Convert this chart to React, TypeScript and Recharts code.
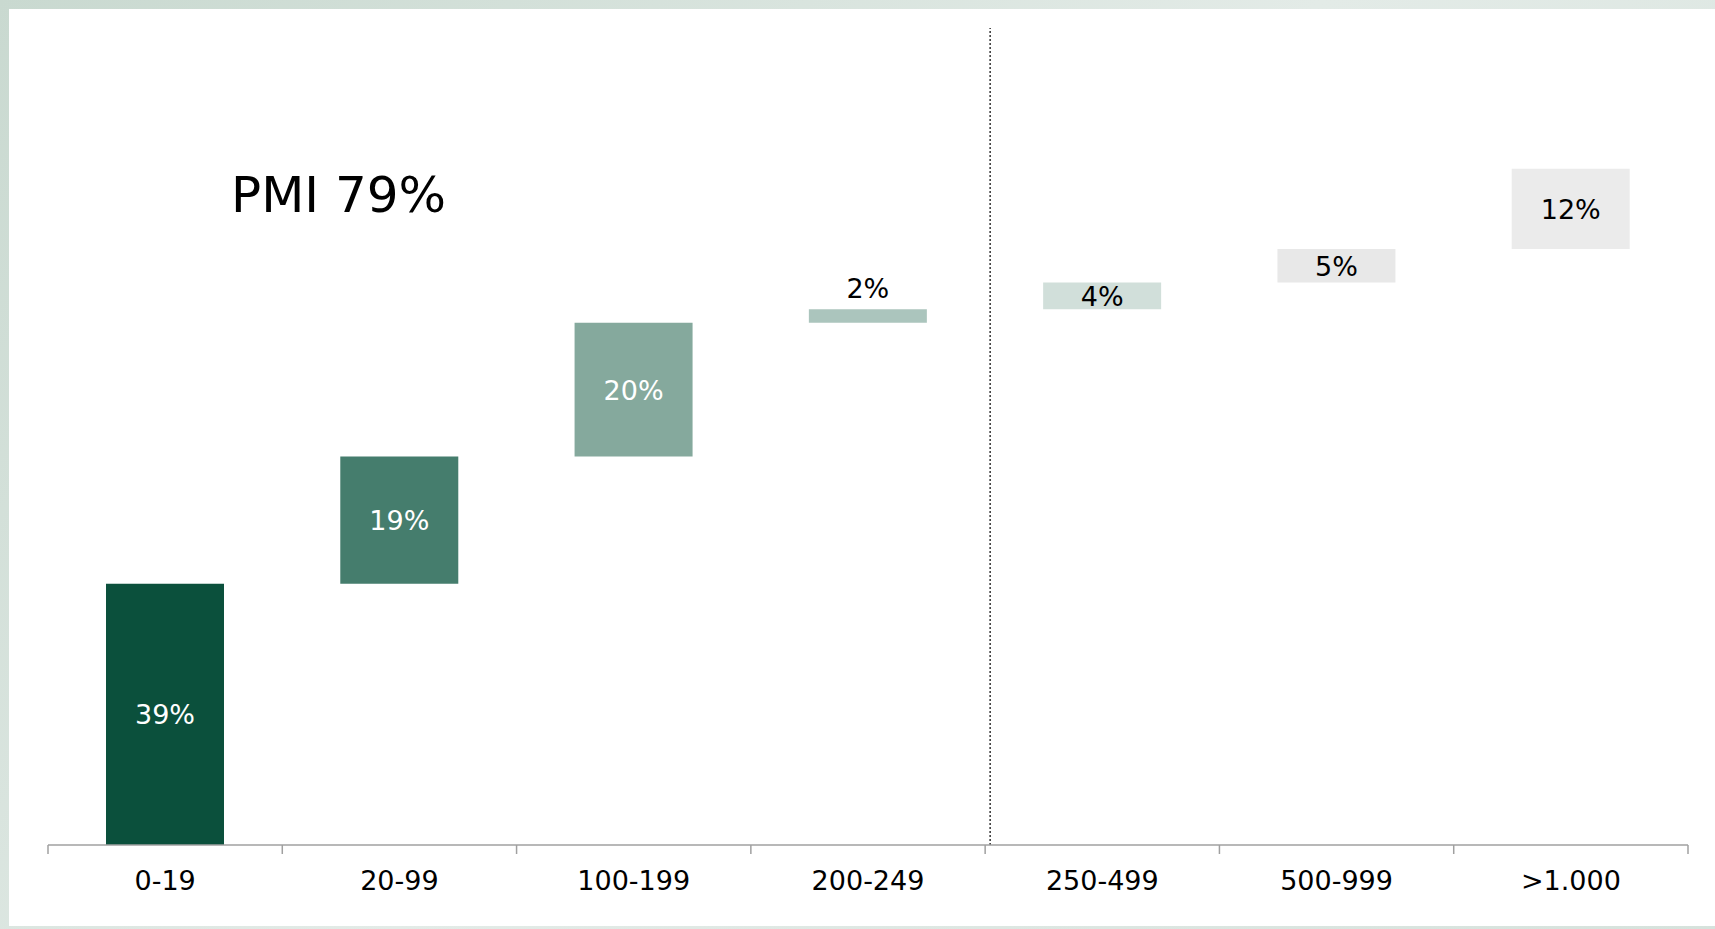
import React from 'react';
import { BarChart, Bar, XAxis, YAxis, Cell, LabelList, ReferenceLine } from 'recharts';

const categories = ['0-19', '20-99', '100-199', '200-249', '250-499', '500-999', '>1.000'];
const shares = [39, 19, 20, 2, 4, 5, 12];
const barColors = ['#0b503c', '#457d6d', '#85a99d', '#abc5bd', '#d1dfda', '#e8e8e8', '#ebebeb'];
const labelColors = ['#ffffff', '#ffffff', '#ffffff', '#000000', '#000000', '#000000', '#000000'];
const headline = 'PMI 79%';

// waterfall: each step starts where the previous one ended
const data = categories.map((name, i) => ({
  name,
  base: shares.slice(0, i).reduce((a, b) => a + b, 0),
  value: shares[i],
}));

const W = 1715;
const H = 929;
const M = { top: 28, right: 27, bottom: 24, left: 48 };
const AXIS_H = 60;
const PLOT_BOTTOM = H - M.bottom - AXIS_H;
const BAND = (W - M.left - M.right) / categories.length;
const FONT = '"DejaVu Sans", Verdana, sans-serif';

const Tick = (props: any) => {
  const { x, payload, index } = props;
  const half = BAND / 2;
  return (
    <g>
      <line x1={x - half} y1={PLOT_BOTTOM} x2={x - half} y2={PLOT_BOTTOM + 9} stroke="#a0a0a0" strokeWidth={1.5} />
      {index === categories.length - 1 && (
        <line x1={x + half} y1={PLOT_BOTTOM} x2={x + half} y2={PLOT_BOTTOM + 9} stroke="#a0a0a0" strokeWidth={1.5} />
      )}
      <text x={x} y={PLOT_BOTTOM + 45} textAnchor="middle" fontSize={27} fontFamily={FONT} fill="#000">
        {payload.value}
      </text>
    </g>
  );
};

const BarLabel = (props: any) => {
  const { x, y, width, height, value, index } = props;
  const cx = x + width / 2;
  const small = height < 20;
  const ty = small ? y - 11 : y + height / 2 + 10;
  return (
    <text x={cx} y={ty} textAnchor="middle" fontSize={27} fontFamily={FONT} fill={small ? '#000' : labelColors[index]}>
      {value}%
    </text>
  );
};

const DottedLine = (props: any) => {
  const { x1, y1, x2, y2 } = props;
  return <line x1={x1 + 5} y1={y1} x2={x2 + 5} y2={y2} stroke="#333" strokeWidth={1.5} strokeDasharray="2 2" />;
};

export default function App() {
  return (
    <div
      style={{
        position: 'absolute',
        left: 0,
        top: 0,
        width: W,
        height: H,
        background: 'linear-gradient(135deg, #c9d9d0 0%, #e3ebe7 50%, #d6e2dc 100%)',
        fontFamily: FONT,
      }}
    >
      <div style={{ position: 'absolute', left: 9, top: 9, right: 0, bottom: 3, background: '#fff' }} />
      <div style={{ position: 'absolute', left: 0, top: 0 }}>
        <BarChart width={W} height={H} data={data} margin={M}>
          <XAxis
            dataKey="name"
            height={AXIS_H}
            axisLine={{ stroke: '#a0a0a0', strokeWidth: 1.5 }}
            tickLine={false}
            tick={<Tick />}
            interval={0}
          />
          <YAxis hide domain={[0, 122]} allowDataOverflow />
          <ReferenceLine x="250-499" position="start" shape={<DottedLine />} />
          <Bar dataKey="base" stackId="w" fill="transparent" isAnimationActive={false} barSize={118} />
          <Bar dataKey="value" stackId="w" isAnimationActive={false} barSize={118}>
            {data.map((d, i) => (
              <Cell key={d.name} fill={barColors[i]} />
            ))}
            <LabelList dataKey="value" content={<BarLabel />} />
          </Bar>
        </BarChart>
      </div>
      <svg width={W} height={H} style={{ position: 'absolute', left: 0, top: 0, pointerEvents: 'none' }}>
        <text x={231} y={212} fontSize={50} fontFamily={FONT} fill="#000">
          {headline}
        </text>
      </svg>
    </div>
  );
}
